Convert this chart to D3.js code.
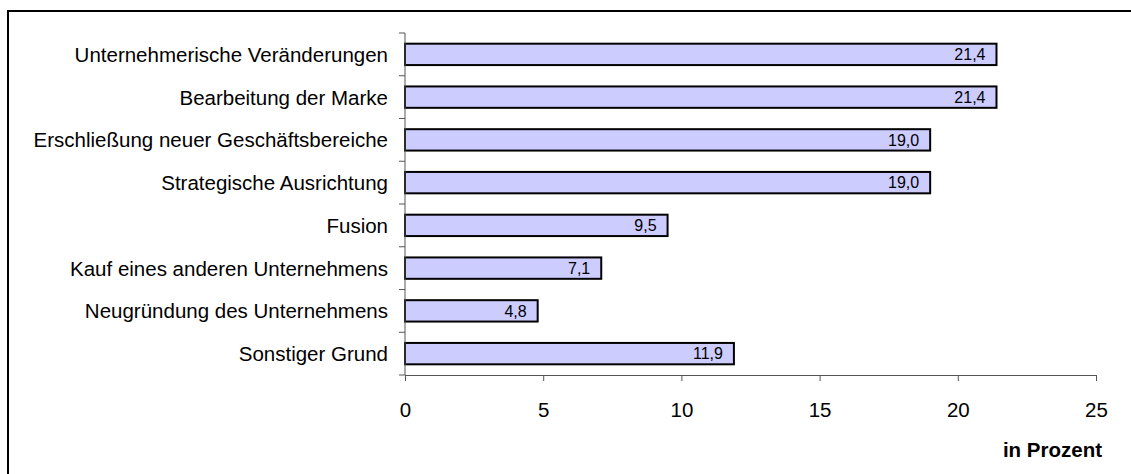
<!DOCTYPE html>
<html>
<head>
<meta charset="utf-8">
<script src="https://cdn.jsdelivr.net/npm/d3@7"></script>
<style>
  body { margin: 0; background: #fff; }
  svg { display: block; font-family: "Liberation Sans", Arial, sans-serif; }
</style>
</head>
<body>
<div id="chart"></div>
<script>
// categories and values (in Prozent)
var categories = [
    "Unternehmerische Veränderungen",
    "Bearbeitung der Marke",
    "Erschließung neuer Geschäftsbereiche",
    "Strategische Ausrichtung",
    "Fusion",
    "Kauf eines anderen Unternehmens",
    "Neugründung des Unternehmens",
    "Sonstiger Grund"
];
var values = [21.4, 21.4, 19.0, 19.0, 9.5, 7.1, 4.8, 11.9];
var xTicks = [0, 5, 10, 15, 20, 25];

var svgWidth = 1131;
var svgHeight = 474;

var margin = { top: 33, left: 405, right: 35, bottom: 99 };
var width = 1096 - margin.left;
var height = 375 - margin.top;

var svg = d3.select("#chart")
    .append("svg")
    .attr("width", svgWidth)
    .attr("height", svgHeight);

// outer frame (right/bottom edges run off the picture)
svg.append("rect")
    .attr("x", 8)
    .attr("y", 11)
    .attr("width", svgWidth + 10)
    .attr("height", svgHeight + 10)
    .attr("fill", "none")
    .attr("stroke", "#000")
    .attr("stroke-width", 2);

var chart = svg.append("g")
    .attr("transform", `translate(${margin.left}, ${margin.top})`);

var x = d3.scaleLinear()
    .domain([0, 25])
    .range([0, width]);

var y = d3.scaleBand()
    .domain(categories)
    .range([0, height])
    .paddingInner(0.5)
    .paddingOuter(0.25);

// bars
chart.selectAll("rect.bar")
    .data(values)
    .enter()
    .append("rect")
    .attr("class", "bar")
    .attr("x", 0)
    .attr("y", (d, i) => y(categories[i]))
    .attr("width", d => x(d))
    .attr("height", y.bandwidth())
    .attr("fill", "#ccccff")
    .attr("stroke", "#000")
    .attr("stroke-width", 2);

// value labels inside bar ends
chart.selectAll("text.val")
    .data(values)
    .enter()
    .append("text")
    .attr("class", "val")
    .attr("x", d => x(d) - 11)
    .attr("y", (d, i) => y(categories[i]) + y.bandwidth() / 2)
    .attr("dy", "0.36em")
    .attr("text-anchor", "end")
    .style("font-size", "16px")
    .style("fill", "#000")
    .text(d => d3.format(".1f")(d).replace(".", ","));

// category labels
chart.selectAll("text.cat")
    .data(categories)
    .enter()
    .append("text")
    .attr("class", "cat")
    .attr("x", -17)
    .attr("y", d => y(d) + y.bandwidth() / 2)
    .attr("dy", "0.36em")
    .attr("text-anchor", "end")
    .style("font-size", "20.5px")
    .style("fill", "#000")
    .text(d => d);

// y axis: line with ticks between categories
var yAxis = chart.append("g");
yAxis.append("line")
    .attr("x1", 0).attr("x2", 0)
    .attr("y1", 0).attr("y2", height)
    .attr("stroke", "#555");
var step = y.step();
yAxis.selectAll("line.tick")
    .data(d3.range(categories.length + 1))
    .enter()
    .append("line")
    .attr("class", "tick")
    .attr("x1", -6).attr("x2", 0)
    .attr("y1", i => i * step)
    .attr("y2", i => i * step)
    .attr("stroke", "#555");

// x axis
var bottomAxis = d3.axisBottom(x)
    .tickValues(xTicks)
    .tickSize(6)
    .tickSizeOuter(0)
    .tickPadding(21)
    .tickFormat(d3.format("d"));

var xg = chart.append("g")
    .attr("transform", `translate(0, ${height})`)
    .call(bottomAxis);
xg.select(".domain").attr("stroke", "#555");
xg.selectAll(".tick line").attr("stroke", "#555");
xg.selectAll(".tick text")
    .style("font-size", "20.5px")
    .style("font-family", "Liberation Sans, Arial, sans-serif")
    .attr("fill", "#000");

// axis title
svg.append("text")
    .attr("x", 1102)
    .attr("y", 457)
    .attr("text-anchor", "end")
    .style("font-size", "20.5px")
    .style("font-weight", "bold")
    .text("in Prozent");
</script>
</body>
</html>
